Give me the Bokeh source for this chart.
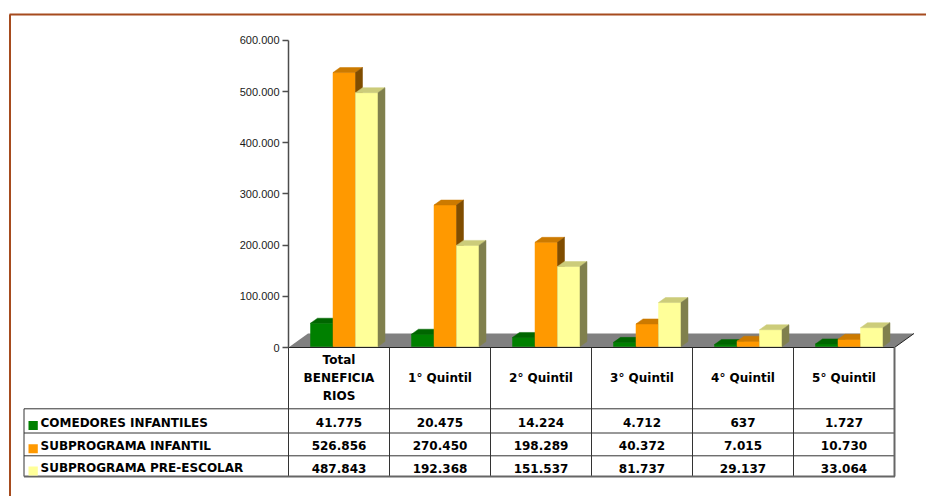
from bokeh.plotting import figure
from bokeh.models import Range1d, FixedTicker, ColumnDataSource
from bokeh.core.properties import value
from bokeh.embed import file_html
from bokeh.resources import INLINE

# ---------------- data ----------------
CATEGORIES = ["Total BENEFICIARIOS", "1° Quintil", "2° Quintil", "3° Quintil", "4° Quintil", "5° Quintil"]
HEADER_LABELS = ["Total\nBENEFICIA\nRIOS", "1° Quintil", "2° Quintil", "3° Quintil", "4° Quintil", "5° Quintil"]
SERIES = ["COMEDORES INFANTILES", "SUBPROGRAMA INFANTIL", "SUBPROGRAMA PRE-ESCOLAR"]
COMEDORES = [41775, 20475, 14224, 4712, 637, 1727]
INFANTIL = [526856, 270450, 198289, 40372, 7015, 10730]
PREESCOLAR = [487843, 192368, 151537, 81737, 29137, 33064]
Y_TICKS = [0, 100000, 200000, 300000, 400000, 500000, 600000]
Y_TICK_LABELS = ["0", "100.000", "200.000", "300.000", "400.000", "500.000", "600.000"]

SERIES_VALUES = [COMEDORES, INFANTIL, PREESCOLAR]
FRONT = ["#008000", "#FF9900", "#FFFF99"]
TOP = ["#006600", "#CC7A00", "#CCCC7A"]
SIDE = ["#004000", "#804D00", "#80804D"]

# ---------------- layout ----------------
W, H = 926, 496
PAGE = 0
AXIS0_PX = 347.0      # page y of value 0
COL0_PX = 338.5       # page x of first column centre
PX_PER_COL = 101.0
PX_PER_100K = 51.17
VPP = 100000 / PX_PER_100K


def X(px):
    return (px - COL0_PX) / PX_PER_COL


def Y(py):
    return (AXIS0_PX - py) * VPP


p = figure(width=W, height=H, x_range=Range1d(X(PAGE), X(PAGE + W)),
           y_range=Range1d(Y(PAGE + H), Y(PAGE)), output_backend="svg",
           toolbar_location=None, x_axis_location=None, min_border=0,
           title=None)
p.outline_line_color = None
p.background_fill_color = "white"
p.border_fill_color = "white"
p.xgrid.visible = False
p.ygrid.visible = False

ax = p.yaxis[0]
ax.fixed_location = -0.5
ax.ticker = FixedTicker(ticks=Y_TICKS)
ax.major_label_overrides = {t: l for t, l in zip(Y_TICKS, Y_TICK_LABELS)}
ax.bounds = (0, Y_TICKS[-1])
ax.axis_line_color = "#4d4d4d"
ax.axis_line_width = 1.5
ax.major_tick_line_color = "#4d4d4d"
ax.major_tick_line_width = 1.5
ax.major_tick_out = 6
ax.major_tick_in = 0
ax.minor_tick_line_color = None
ax.major_label_standoff = 3
ax.major_label_text_font = "Liberation Sans"
ax.major_label_text_font_size = "11px"
ax.major_label_text_color = "#1a1a1a"

# brown frame
FRAME = "#A64B1E"
p.line([X(9), X(940)], [Y(14), Y(14)], line_color=FRAME, line_width=2)
p.line([X(9.5), X(9.5)], [Y(14), Y(510)], line_color=FRAME, line_width=2)

# floor
NCOL = len(CATEGORIES)
FDX = 19.5 / PX_PER_COL
FDY = 14 * VPP
left, right = -0.5, NCOL - 0.5
p.patch([left, right, right + FDX, left + FDX], [0, 0, FDY, FDY],
        fill_color="#808080", line_color=None)
p.line([left, right, right + FDX], [0, 0, FDY], line_color="#222222", line_width=1)

# bars (3D)
BW = 22.5 / PX_PER_COL
GOFF = 22.0 / PX_PER_COL
BDX = 7.0 / PX_PER_COL
BDY = 5.0 * VPP
BASE = (AXIS0_PX - 344.3) * VPP
K3D = 51.68 / PX_PER_100K
BOT = (AXIS0_PX - 346.0) * VPP

xs, ys, cols = [], [], []
for i in range(NCOL):
    for k, vals in enumerate(SERIES_VALUES):
        x0 = i - 0.5 + GOFF + k * BW
        x1 = x0 + BW
        t = BASE + vals[i] * K3D
        xs.append([x0, x1, x1, x0]); ys.append([BOT, BOT, t, t]); cols.append(FRONT[k])
        xs.append([x0, x1, x1 + BDX, x0 + BDX]); ys.append([t, t, t + BDY, t + BDY]); cols.append(TOP[k])
        xs.append([x1, x1 + BDX, x1 + BDX, x1]); ys.append([BOT, BOT + BDY, t + BDY, t]); cols.append(SIDE[k])
bars = ColumnDataSource(dict(xs=xs, ys=ys, c=cols))
p.patches("xs", "ys", source=bars, fill_color="c", line_color="c", line_width=0.5)

# table grid
T_LEFT = X(23.5)
ROW_LINES = [408.3, 432.5, 455.3]
T_BOTTOM = 476.0
x0s, y0s, x1s, y1s = [], [], [], []
for j in range(NCOL):
    x0s.append(j - 0.5); x1s.append(j - 0.5); y0s.append(0); y1s.append(Y(T_BOTTOM))
x0s.append(T_LEFT); x1s.append(T_LEFT); y0s.append(Y(ROW_LINES[0])); y1s.append(Y(T_BOTTOM))
for r in ROW_LINES:
    x0s.append(T_LEFT); x1s.append(right); y0s.append(Y(r)); y1s.append(Y(r))
p.segment(x0s, y0s, x1s, y1s, line_color="#333333", line_width=1)
p.segment([right, T_LEFT], [0, Y(T_BOTTOM)], [right, right + 0.005], [Y(T_BOTTOM), Y(T_BOTTOM)],
          line_color="#666666", line_width=2)

TFONT = value("DejaVu Sans")
TSIZE = "12px"

# header labels
p.text(x=list(range(NCOL)), y=[Y(377.7)] * NCOL, text=HEADER_LABELS,
       text_font=TFONT, text_font_style="bold", text_font_size=TSIZE,
       text_align="center", text_baseline="middle", text_color="black",
       text_line_height=1.27)

# rows
ROW_TEXT_Y = [422.0, 445.3, 467.6]
for k, (name, vals) in enumerate(zip(SERIES, SERIES_VALUES)):
    ty = Y(ROW_TEXT_Y[k])
    p.quad(left=[X(28)], right=[X(37.3)], top=[Y(ROW_TEXT_Y[k] - 1.5)],
           bottom=[Y(ROW_TEXT_Y[k] + 7.5)], fill_color=FRONT[k], line_color=None)
    p.text(x=[X(40)], y=[ty], text=[name], text_font=TFONT, text_font_style="bold",
           text_font_size=TSIZE, text_align="left", text_baseline="middle",
           text_color="black")
    labels = [f"{v:,}".replace(",", ".") for v in vals]
    p.text(x=list(range(NCOL)), y=[ty] * NCOL, text=labels, text_font=TFONT,
           text_font_style="bold", text_font_size=TSIZE, text_align="center",
           text_baseline="middle", text_color="black")

open("out.html", "w").write(file_html(p, INLINE))
